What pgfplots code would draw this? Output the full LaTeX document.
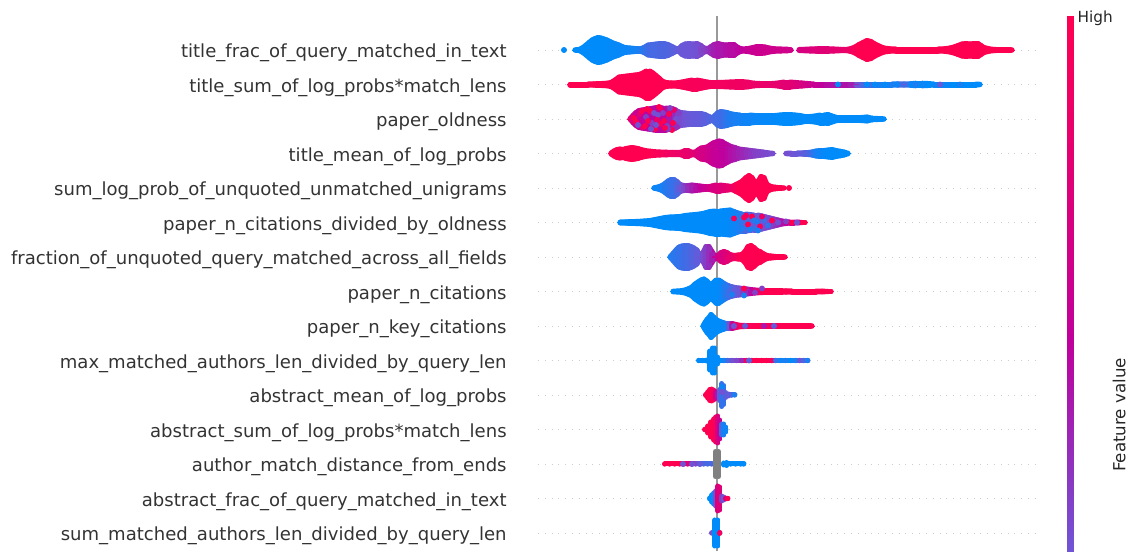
\documentclass[border=0pt]{standalone}
\usepackage{pgfplots}
\usepackage{pgfplotstable}
\usepackage{fontspec}
\setmainfont{DejaVu Sans}
\pgfplotsset{compat=1.18}
\pgfplotsset{colormap={shap}{rgb255(0cm)=(0,139,251); rgb255(44cm)=(111,85,214); rgb255(66cm)=(192,0,156); rgb255(100cm)=(255,0,81)}}
\definecolor{labelgray}{HTML}{333333}
\definecolor{zeroline}{HTML}{999999}
\definecolor{dotline}{HTML}{CCCCCC}

% one table per feature: x pixel column, half height of the swarm there, feature value
\pgfplotstableread[row sep=\\]{x h c\\
575 2.7 0\\ 579 3 0\\ 583 5 0\\ 586 7.5 0\\ 589 10 0\\ 592 12.5 0\\ 595 14 0\\ 598 15 0\\ 601 14.5 0\\ 604 13.5 0\\ 607 12.5 0\\
610 11 .02\\ 613 9.5 .02\\ 616 8.5 .02\\ 619 7.5 .03\\ 622 6 .03\\ 625 5 .04\\ 630 4.5 .05\\ 635 4 .07\\ 640 3.7 .1\\ 644 5 .18\\ 648 7.5 .25\\
652 8 .28\\ 656 8.5 .28\\ 660 9 .3\\ 664 9 .3\\ 668 8 .32\\ 672 6 .34\\ 676 4 .38\\ 679 4 .4\\ 682 7 .42\\ 685 8.5 .42\\ 689 9 .43\\ 693 8.5 .44\\
697 9 .45\\ 701 7 .48\\ 704 4.5 .5\\ 708 4 .52\\ 711 6 .55\\ 714 8 .58\\ 718 9 .6\\ 722 8 .6\\ 726 7.5 .62\\ 730 8 .63\\ 734 8 .63\\ 738 5 .65\\
742 3.5 .66\\ 748 4 .7\\ 753 5 .7\\ 757 6 .72\\ 761 6 .72\\ 765 5.5 .72\\ 769 4.5 .73\\ 775 3.7 .73\\ 781 3.5 .74\\ 787 3.3 .74\\ 791 2.8 .75\\
}\rowA
\pgfplotstableread[row sep=\\]{x h c\\
799 3 .78\\ 804 3.2 .79\\ 810 3.5 .8\\ 816 3.7 .82\\ 822 4 .83\\ 828 3.8 .84\\ 834 3.5 .86\\ 840 3.2 .87\\ 846 3 .88\\ 851 4 .93\\ 855 5.5 .96\\
859 8 1\\ 863 10 1\\ 867 12 1\\ 871 11 1\\ 875 8.5 1\\ 879 6.5 1\\ 884 4.5 1\\ 890 3.7 1\\ 896 3.5 1\\ 902 3.5 1\\ 908 3.5 1\\ 914 3.5 1\\ 920 3.5 1\\
926 3.5 1\\ 932 3.5 1\\ 938 3.5 1\\ 944 3.7 1\\ 950 4.5 1\\ 954 5.5 1\\ 958 7 1\\ 962 8.5 1\\ 966 9 1\\ 970 8.5 1\\ 974 9 1\\ 978 9 1\\ 981 7 1\\
984 5 1\\ 990 3.5 1\\ 996 3 1\\ 1002 3 1\\ 1008 3 1\\ 1012 2.7 1\\
}\rowAb
\pgfplotstableread[row sep=\\]{x h c\\
570 3 1\\ 576 3 1\\ 582 3 1\\ 588 3 1\\ 594 3.2 1\\ 600 3.4 1\\ 606 3.7 1\\ 611 4.5 1\\ 615 7 1\\ 619 10 1\\ 623 10.5 1\\ 627 11 1\\ 631 11.5 1\\
635 12 1\\ 639 12.5 1\\ 643 14 1\\ 646 16 1\\ 650 16 1\\ 653 14 1\\ 656 11.5 1\\ 659 9 1\\ 662 6 1\\ 666 4.5 1\\ 671 4 1\\ 677 4.2 .98\\
682 5 .98\\ 687 6 .97\\ 692 7 .97\\ 697 7 .96\\ 702 6 .96\\ 707 5 .95\\ 712 4.3 .95\\ 718 4.5 .94\\ 724 4.7 .94\\ 730 5 .93\\ 736 5.3 .93\\ 742 5.5 .92\\
748 4.8 .92\\ 754 3.8 .9\\ 760 3.5 .9\\ 766 3.5 .88\\ 772 3.5 .88\\ 778 4 .87\\ 784 5 .85\\ 790 5 .85\\ 796 4.5 .82\\ 802 4 .78\\ 808 3.5 .75\\
814 3 .7\\ 820 3 .68\\ 826 3 .64\\ 832 3 .62\\ 838 3 .6\\ 844 3 .62\\ 850 3 .6\\ 856 3 .55\\ 862 3 .3\\ 868 3 .25\\ 874 3 .2\\ 880 3 .1\\ 886 3 .05\\
892 3 .1\\ 898 3.2 .1\\ 904 3 .42\\ 910 3.2 .05\\ 916 3.8 .03\\ 922 3.8 .05\\ 928 3.5 0\\ 934 3 0\\ 940 3 .1\\ 946 3 .05\\ 952 3 0\\ 958 3 0\\
964 3 0\\ 970 3 0\\ 976 3 0\\ 980 2.7 0\\
}\rowB
\pgfplotstableread[row sep=\\]{x h c\\
630 2.8 .9\\ 633 6 .8\\ 636 9 .7\\ 639 11 .7\\ 642 11.5 .68\\ 645 12 .65\\ 648 12.5 .65\\ 651 13 .65\\ 654 13.5 .65\\ 657 14 .65\\ 660 14 .65\\
663 13.5 .65\\ 666 13.5 .65\\ 669 13 .6\\ 672 13 .6\\ 675 12 .55\\ 678 10 .5\\ 681 9 .46\\ 685 8.5 .44\\ 689 8 .42\\ 693 8 .4\\ 697 8 .4\\ 701 8 .38\\
705 7 .36\\ 709 5 .33\\ 712 3.7 .3\\ 715 6 .28\\ 718 9 .26\\ 721 10 .25\\ 724 9.5 .22\\ 727 9 .17\\ 730 8 .12\\ 735 7 .1\\ 740 6.5 .08\\ 745 6.5 .06\\
750 6.5 .05\\ 755 6 .04\\ 760 6 .03\\ 765 6 .02\\ 770 6 .02\\ 775 6 .01\\ 780 6.5 0\\ 785 7 0\\ 790 7 0\\ 795 6.5 0\\ 800 6 0\\ 805 5 0\\ 810 5 0\\
815 5.5 0\\ 820 6.5 0\\ 824 6.5 0\\ 828 7 0\\ 832 5.5 0\\ 837 4 0\\ 843 3.8 0\\ 849 3.8 0\\ 855 3.8 0\\ 861 4 0\\ 867 4.5 0\\ 872 3.3 0\\ 878 3 0\\ 884 2.7 0\\
}\rowC
\pgfplotstableread[row sep=\\]{x h c\\
611 3 1\\ 614 5 1\\ 617 6.5 1\\ 620 7 1\\ 623 6.5 1\\ 626 7.5 1\\ 629 8 1\\ 632 8.5 1\\ 635 8 1\\ 638 7.5 1\\ 641 6.5 1\\ 645 5.5 1\\ 650 4.8 1\\
655 4.3 .98\\ 660 4 .96\\ 666 3.8 .94\\ 672 3.6 .92\\ 678 3.5 .9\\ 682 4 .9\\ 685 5.5 .88\\ 688 5.5 .88\\ 691 4 .86\\ 695 3.7 .84\\ 698 6 .8\\ 701 8 .78\\
704 8.5 .76\\ 707 9 .74\\ 710 11 .72\\ 713 13 .7\\ 716 14 .68\\ 719 15 .68\\ 722 14.5 .66\\ 725 12.5 .66\\ 728 11 .64\\ 731 9.5 .62\\ 735 8.5 .6\\ 739 7 .58\\
743 6.5 .56\\ 747 6 .54\\ 751 5.5 .52\\ 755 5 .5\\ 759 4.5 .49\\ 763 4 .48\\ 768 3.2 .47\\ 773 2.7 .46\\
}\rowD
\pgfplotstableread[row sep=\\]{x h c\\
786 2.7 .46\\ 791 3 .45\\ 797 3 .42\\ 803 3.2 .38\\ 808 3.5 .33\\ 812 4 .22\\ 816 5 .1\\ 820 5.5 .05\\ 824 5.5 .03\\ 828 6 0\\ 832 6.5 0\\ 836 5.5 0\\ 840 4.8 0\\ 844 4 0\\ 848 2.8 0\\
}\rowDb
\pgfplotstableread[row sep=\\]{x h c\\
654 2.8 .03\\ 658 3.5 .05\\ 662 5 .08\\ 665 7 .12\\ 668 9.5 .18\\ 671 11 .2\\ 674 11 .22\\ 677 9 .3\\ 680 6 .42\\ 684 5 .48\\ 688 5 .54\\ 692 5.5 .58\\
696 5 .62\\ 700 4.5 .66\\ 704 4 .7\\ 708 3.7 .74\\ 712 4.5 .78\\ 716 5.5 .8\\ 720 5.5 .82\\ 724 5 .84\\ 728 4.5 .87\\ 732 4 .9\\ 736 6 .96\\ 740 8 1\\ 743 10 1\\
746 13 1\\ 749 15 1\\ 752 13 1\\ 755 8 1\\ 758 9 1\\ 761 14 1\\ 764 13 1\\ 767 6 1\\ 771 4 1\\ 775 3.3 1\\ 780 2.8 1\\ 784 2.7 1\\
}\rowE
\pgfplotstableread[row sep=\\]{x h c\\
620 3 0\\ 626 3.2 0\\ 632 3.4 0\\ 638 3.6 0\\ 644 4 0\\ 650 4.5 0\\ 655 5.5 0\\ 660 6.5 0\\ 665 7.5 0\\ 670 8 0\\ 675 8.2 0\\ 680 8.5 0\\ 685 9.5 0\\ 690 10 0\\
695 10.5 0\\ 700 11 0\\ 705 12 0\\ 710 13.5 0\\ 715 14 0\\ 720 14 0\\ 725 14.5 0\\ 730 15 .02\\ 734 13.5 .04\\ 738 12 .08\\ 742 11 .18\\ 746 11 .26\\ 750 10.5 .32\\
754 10 .38\\ 758 10 .42\\ 762 9 .45\\ 766 8 .46\\ 770 7 .48\\ 774 6 .5\\ 778 5 .55\\ 782 4 .6\\ 786 3.5 .65\\ 790 3 .7\\ 794 3 .78\\ 798 2.8 .5\\ 802 2.7 1\\ 805 2.7 1\\
}\rowF
\pgfplotstableread[row sep=\\]{x h c\\
670 2.7 .05\\ 673 6 .15\\ 676 9.5 .18\\ 679 12.5 .2\\ 682 13.5 .22\\ 685 14 .25\\ 688 14 .27\\ 691 13 .3\\ 694 11.5 .34\\ 697 9.5 .38\\ 700 4 .42\\ 703 7 .46\\
706 13 .5\\ 709 13 .54\\ 712 8 .58\\ 715 3.5 .68\\ 718 4 .74\\ 721 7 .78\\ 724 8 .8\\ 727 7 .84\\ 730 5 .88\\ 734 4 .9\\ 738 4.5 .96\\ 742 5 1\\ 745 8 1\\ 748 13 1\\
751 14 1\\ 754 12 1\\ 757 9 1\\ 760 8 1\\ 763 6 1\\ 767 4 1\\ 771 3.5 1\\ 776 3 1\\ 781 3 1\\ 785 2.7 1\\
}\rowG
\pgfplotstableread[row sep=\\]{x h c\\
673 2.8 0\\ 677 3 0\\ 681 3.3 0\\ 685 4 0\\ 689 5.5 0\\ 692 7 0\\ 695 10 0\\ 698 12 0\\ 701 14 0\\ 704 15 0\\ 707 13 0\\ 710 9.5 0\\ 713 11 0\\ 716 14 0\\ 719 14 0\\
722 12 .06\\ 725 10 .12\\ 728 8.5 .22\\ 731 7.5 .28\\ 735 6.5 .38\\ 739 6 .42\\ 743 5.5 .5\\ 747 5 .55\\ 751 4.5 .62\\ 755 4 .75\\ 759 3.7 .85\\ 763 3.5 1\\ 768 3.5 1\\ 774 3.5 1\\
780 3.3 1\\ 786 3.2 1\\ 792 3 1\\ 798 3 1\\ 804 3 1\\ 810 3 1\\ 816 3 1\\ 822 2.8 1\\ 828 2.7 1\\ 831 2.7 1\\
}\rowH
\pgfplotstableread[row sep=\\]{x h c\\
703 2.7 0\\ 705 6 0\\ 707 9 0\\ 709 11 0\\ 711 14 0\\ 714 11 0\\ 717 8.5 0\\ 720 7 0\\ 723 6 .02\\ 726 5 .05\\ 729 5 .3\\ 732 5 .6\\ 736 4 .88\\ 740 3.2 .95\\ 745 3 .95\\ 750 3 .95\\
756 3 1\\ 762 3 1\\ 768 3 .95\\ 774 3 .95\\ 780 3 1\\ 786 3 1\\ 792 3 1\\ 798 3 1\\ 804 3 1\\ 810 2.8 1\\ 812 2.7 1\\
}\rowI
\pgfplotstableread[row sep=\\]{x h c\\
699 2.7 0\\ 703 2.7 0\\ 707 3 0\\ 710 12 0\\ 712.5 15 0\\ 715 15 0\\ 717.5 6 0\\ 720 3 0\\ 724 2.7 .05\\ 728 2.7 .25\\ 732 2.7 .45\\ 737 2.7 .48\\ 742 2.7 .55\\ 747 2.7 1\\
752 2.7 1\\ 757 2.7 1\\ 762 2.7 1\\ 767 2.7 1\\ 772 2.7 .95\\ 776 2.7 .2\\ 781 2.7 .05\\ 786 2.7 .1\\ 791 2.7 .02\\ 796 2.7 .1\\ 800 2.7 .45\\ 804 2.7 .3\\ 808 2.7 .1\\
}\rowJ
\pgfplotstableread[row sep=\\]{x h c\\
706 3 1\\ 708 5.5 1\\ 710 8 1\\ 712 8.5 1\\ 714 7.5 .95\\ 716 6 .75\\ 718 5 .6\\ 720 8 .4\\ 722 14 .2\\ 724 12 .2\\ 726 5 .35\\ 729 3.5 .4\\ 732 2.8 .3\\ 735 2.7 .1\\
}\rowK
\pgfplotstableread[row sep=\\]{x h c\\
705 2.7 1\\ 708 6 1\\ 711 10 1\\ 714 13 1\\ 716 15 .95\\ 718 16 .8\\ 720 12 .7\\ 722 8 .3\\ 724 8 .1\\ 726 5 .05\\
}\rowL
\pgfplotstableread[row sep=\\]{x h c\\
665 2.7 1\\ 670 2.7 1\\ 675 2.7 1\\ 680 2.7 1\\ 684 2.7 .9\\ 688 2.7 .85\\ 692 2.7 .6\\ 696 2.7 .48\\ 700 2.7 .35\\ 704 2.7 .3\\ 708 2.7 .28\\ 712 2.7 .28\\
}\rowM
\pgfplotstableread[row sep=\\]{x h c\\
724 3.5 0\\ 727 4 0\\ 731 2.7 0\\ 736 2.7 0\\ 741 2.7 0\\ 744 2.7 0\\
}\rowMb
\pgfplotstableread[row sep=\\]{x h c\\
710 3 0\\ 712 6 0\\ 714 8 .03\\ 716 10 .45\\ 718 15 .8\\ 720 14 .82\\ 722 5 .5\\ 724 4 .42\\ 726 3 .8\\ 728 2.7 1\\
}\rowN
\pgfplotstableread[row sep=\\]{x h c\\
712 2.7 .45\\ 715 15.5 0\\ 718 15.5 0\\ 720 3 .95\\
}\rowO
\pgfplotstableread[row sep=\\]{x h\\
715.5 15\\ 718.5 15\\
}\rowMgray
% single dots that stand out of the swarm: x pixel, row, offset in pixels, feature value
\pgfplotstableread[row sep=\\]{x r d c\\
564 15 0 0\\ 789 11 0 1\\
636 13 -3 1\\ 640 13 5 .85\\ 643 13 -8 .9\\ 646 13 2 .5\\ 650 13 8 1\\ 652 13 -4 .5\\ 655 13 -10 1\\ 658 13 4 .45\\ 661 13 10 .85\\ 664 13 -2 1\\
667 13 -7 .5\\ 669 13 5 1\\ 672 13 -11 1\\ 674 13 9 .9\\ 668 13 -10 .5\\ 660 13 -5 1\\ 651 13 -10 .45\\ 645 13 -7 1\\ 676 13 0 .45\\ 657 13 -1 .9\\
634 13 1 1\\ 638 13 -6 .45\\ 642 13 8 1\\ 648 13 -2 1\\ 654 13 6 .45\\ 659 13 12 1\\ 663 13 6 .5\\ 665 13 -9 1\\ 670 13 11 .5\\ 673 13 -4 1\\ 677 13 -8 .55\\ 679 13 6 .5\\ 656 13 -6 .45\\ 647 13 10 1\\
734 10 4 .95\\ 744 10 5 1\\ 748 10 -2 1\\ 752 10 6 1\\ 757 10 1 .1\\ 755 10 -6 .2\\ 760 10 -4 .95\\ 764 10 2 .25\\ 768 10 -3 .2\\ 772 10 2 1\\ 778 10 0 .45\\ 786 10 1 .5\\ 792 10 0 1\\ 797 10 0 .45\\
742 10 -6 .1\\ 746 10 7 .95\\ 750 10 -7 .1\\ 754 10 2 .15\\ 758 10 -8 .1\\ 762 10 6 .9\\
744 8 3 1\\ 732 8 -3 .1\\ 744 8 -4 .1\\ 755 8 -1 .5\\ 726 8 5 .15\\ 762 8 3 .5\\
734 7 0 .45\\ 745 7 0 .4\\ 774 7 0 .4\\ 764 7 0 .6\\
749 6 0 .35\\ 722 5 8 .05\\ 722 5 3 .45\\
838 14 0 .02\\ 867 14 0 0\\ 875 14 0 .02\\ 885 14 0 .02\\ 897 14 0 .05\\ 915 14 0 .1\\ 940 14 0 .4\\ 960 14 0 .1\\
683 3 0 .45\\ 692 3 0 .45\\ 700 3 0 .4\\
}\specks

% a narrow swarm: a thin run through the middle, then round columns
\newcommand{\swarm}[2]{
\addplot[mesh,mark=none,line width=3.6pt,line cap=round,point meta=explicit]
  table[x=x,y expr=#1,meta=c]{#2};
\addplot[mark=none,point meta=explicit,
  quiver={u=0,v=2*(\thisrow{h}-2.5)/34.5,
    every arrow/.append style={-,line cap=round,line width=3.6pt,color=mapped color}}]
  table[x=x,y expr=#1-(\thisrow{h}-2.5)/34.5,meta=c]{#2};
}
% a wide swarm: upper and lower outline, with flat columns that close the space between
\newcommand{\wideswarm}[2]{
\addplot[mesh,mark=none,line width=3.6pt,line cap=round,line join=round,point meta=explicit]
  table[x=x,y expr=#1+(\thisrow{h}-2.5)/34.5,meta=c]{#2};
\addplot[mesh,mark=none,line width=3.6pt,line cap=round,line join=round,point meta=explicit]
  table[x=x,y expr=#1-(\thisrow{h}-2.5)/34.5,meta=c]{#2};
\addplot[mark=none,point meta=explicit,
  quiver={u=0,v=2*(\thisrow{h}-2.5)/34.5,
    every arrow/.append style={-,line cap=butt,line width=5pt,color=mapped color}}]
  table[x=x,y expr=#1-(\thisrow{h}-2.5)/34.5,meta=c]{#2};
}

\begin{document}
\begin{tikzpicture}
\begin{axis}[
  at={(0,0)},anchor=south west,
  scale only axis,
  width=357.84pt,height=385.2pt,
  xmin=538,xmax=1035,
  ymin=0.478,ymax=15.986,
  axis line style={draw=none},
  xtick=\empty,
  ytick={1,...,15},
  yticklabels={sum\_matched\_authors\_len\_divided\_by\_query\_len,
    abstract\_frac\_of\_query\_matched\_in\_text,
    author\_match\_distance\_from\_ends,
    abstract\_sum\_of\_log\_probs*match\_lens,
    abstract\_mean\_of\_log\_probs,
    max\_matched\_authors\_len\_divided\_by\_query\_len,
    paper\_n\_key\_citations,
    paper\_n\_citations,
    fraction\_of\_unquoted\_query\_matched\_across\_all\_fields,
    paper\_n\_citations\_divided\_by\_oldness,
    sum\_log\_prob\_of\_unquoted\_unmatched\_unigrams,
    title\_mean\_of\_log\_probs,
    paper\_oldness,
    title\_sum\_of\_log\_probs*match\_lens,
    title\_frac\_of\_query\_matched\_in\_text},
  major tick length=0pt,
  yticklabel style={font=\fontsize{13pt}{15pt}\selectfont,text=labelgray,anchor=east,inner sep=0pt,xshift=-22.4pt,yshift=-2.2pt},
  ymajorgrids,
  grid style={dotline,line width=0.6pt,dash pattern=on 0.7pt off 4.2pt},
  colormap name=shap,
  point meta min=0,point meta max=1,
  clip=false,
]
\addplot[zeroline,line width=1.5pt,mark=none] coordinates {(717,0.478) (717,15.986)};
\wideswarm{15}{\rowA}
\wideswarm{15}{\rowAb}
\wideswarm{14}{\rowB}
\wideswarm{13}{\rowC}
\wideswarm{12}{\rowD}
\wideswarm{12}{\rowDb}
\wideswarm{11}{\rowE}
\wideswarm{10}{\rowF}
\wideswarm{9}{\rowG}
\wideswarm{8}{\rowH}
\wideswarm{7}{\rowI}
\swarm{6}{\rowJ}
\swarm{5}{\rowK}
\swarm{4}{\rowL}
\swarm{3}{\rowM}
\swarm{3}{\rowMb}
\addplot[mark=none,quiver={u=0,v=2*(\thisrow{h}-2.5)/34.5,
    every arrow/.append style={-,line cap=round,line width=3.6pt,color=gray}}]
  table[x=x,y expr=3-(\thisrow{h}-2.5)/34.5]{\rowMgray};
\swarm{2}{\rowN}
\swarm{1}{\rowO}
\addplot[scatter,only marks,mark=*,mark size=1.9pt,point meta=explicit,
  scatter/use mapped color={draw=mapped color,fill=mapped color}]
  table[x=x,y expr=\thisrow{r}+\thisrow{d}/34.5,meta=c]{\specks};
\end{axis}
% colour bar, cut by the lower edge of the figure as in the original
\begin{axis}[
  at={(380.88pt,0pt)},anchor=south west,
  scale only axis,hide axis,
  width=4.32pt,height=385.2pt,
  xmin=0,xmax=1,ymin=.44,ymax=1,
  colormap name=shap,
  point meta min=0,point meta max=1,
]
\addplot[patch,patch type=rectangle,shader=interp,point meta=y]
  coordinates {(0,.44) (1,.44) (1,1) (0,1)};
\end{axis}
\node[anchor=west,inner sep=0pt,text=black!85,font=\fontsize{11pt}{12pt}\selectfont] at (388.4pt,383.8pt) {High};
\node[rotate=90,inner sep=0pt,text=black!85,font=\fontsize{12pt}{14pt}\selectfont] at (418.5pt,98pt) {Feature value};
\pgfresetboundingbox
\path[use as bounding box] (-387.36pt,0pt) rectangle (431.28pt,396.72pt);
\end{tikzpicture}
\end{document}
